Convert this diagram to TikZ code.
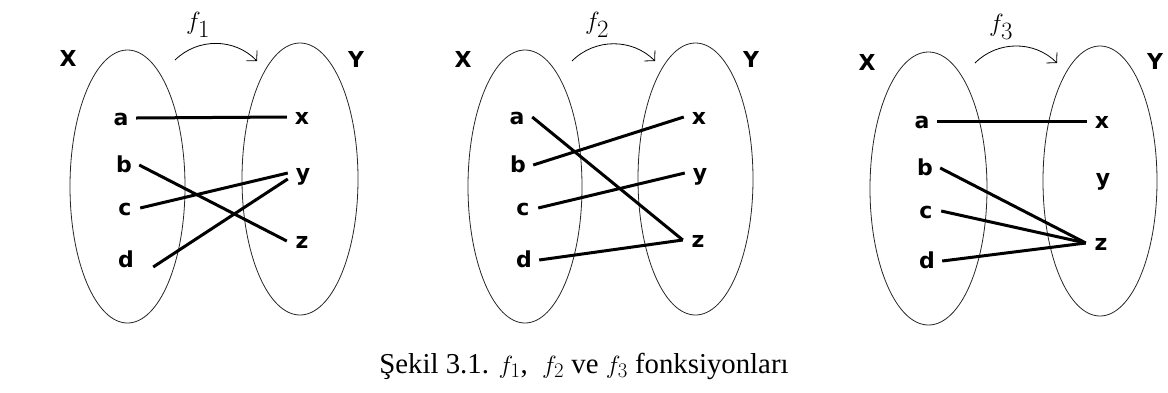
\documentclass[tikz,border=0pt]{standalone}
\usepackage{fontspec}
\setmainfont{Liberation Serif}
\newfontfamily\lblfont{DejaVu Sans}
\usetikzlibrary{arrows.meta}

\tikzset{
  setline/.style={line width=0.8pt, black!85},
  elem/.style={font=\lblfont\bfseries\fontsize{22}{22}\selectfont, anchor=base,
    inner sep=0pt, minimum width=30pt, text height=14pt, text depth=0pt},
  setname/.style={font=\lblfont\bfseries\fontsize{22}{22}\selectfont, anchor=base},
  mapline/.style={line width=3pt},
  maparrow/.style={line width=0.8pt, -{Straight Barb[length=7pt,width=15pt]}, bend left=45},
  fname/.style={font=\fontsize{34}{34}\selectfont},
}

\begin{document}
\begin{tikzpicture}[x=1pt,y=-1pt]
    \useasboundingbox (0,0) rectangle (1168,392);

    % f1
    \draw[setline] (127.5,186.5) ellipse (57.5 and 136.5);
    \draw[setline] (300,179) ellipse (58 and 136);
    \node[setname] (X1) at (68,66) {X};
    \node[setname] (Y1) at (356,67) {Y};
    \coordinate (s1) at (175,60);
    \coordinate (t1) at (257,61);
    \draw[maparrow] (s1) to (t1);
    \node[fname] (f1) at (198,25) {$f_1$};
    \node[elem] (a1) at (121,125) {a};
    \node[elem] (b1) at (124,172) {b};
    \node[elem] (c1) at (125,215) {c};
    \node[elem] (d1) at (126,267) {d};
    \node[elem] (x1) at (302,124) {x};
    \node[elem] (y1) at (303,180) {y};
    \node[elem] (z1) at (302,248) {z};
    \draw[mapline] (a1.east) -- (x1.west);
    \draw[mapline] (b1.east) -- (z1.west);
    \draw[mapline] (c1.east) -- (y1.west);
    \draw[mapline] ([xshift=12pt,yshift=-7pt]d1.east) -- ([yshift=-6pt]y1.west);

    % f2
    \draw[setline] (525,186.5) ellipse (57 and 136.5);
    \draw[setline] (695.5,179) ellipse (57.5 and 136);
    \node[setname] (X2) at (463,67) {X};
    \node[setname] (Y2) at (751,67) {Y};
    \coordinate (s2) at (572,61);
    \coordinate (t2) at (655,61);
    \draw[maparrow] (s2) to (t2);
    \node[fname] (f2) at (597,25) {$f_2$};
    \node[elem] (a2) at (517,124) {a};
    \node[elem] (b2) at (518,172) {b};
    \node[elem] (c2) at (523,215) {c};
    \node[elem] (d2) at (524,267) {d};
    \node[elem] (x2) at (699,124) {x};
    \node[elem] (y2) at (700,180) {y};
    \node[elem] (z2) at (698,247) {z};
    \draw[mapline] (a2.east) -- (z2.west);
    \draw[mapline] (b2.east) -- (x2.west);
    \draw[mapline] (c2.east) -- (y2.west);
    \draw[mapline] (d2.east) -- (z2.west);

    % f3
    \draw[setline] (928.5,188.5) ellipse (58.5 and 136.5);
    \draw[setline] (1100,181) ellipse (57 and 135);
    \node[setname] (X3) at (867,70) {X};
    \node[setname] (Y3) at (1155,69) {Y};
    \coordinate (s3) at (975,63);
    \coordinate (t3) at (1057,63);
    \draw[maparrow] (s3) to (t3);
    \node[fname] (f3) at (1001,27) {$f_3$};
    \node[elem] (a3) at (922,128) {a};
    \node[elem] (b3) at (925,175) {b};
    \node[elem] (c3) at (926,218) {c};
    \node[elem] (d3) at (927,268) {d};
    \node[elem] (x3) at (1102,128) {x};
    \node[elem] (y3) at (1103,185) {y};
    \node[elem] (z3) at (1101,250) {z};
    \draw[mapline] (a3.east) -- (x3.west);
    \draw[mapline] (b3.east) -- (z3.west);
    \draw[mapline] (c3.east) -- (z3.west);
    \draw[mapline] (d3.east) -- (z3.west);

    \node[font=\fontsize{28.8}{28.8}\selectfont, anchor=base] (cap) at (584,373)
      {Şekil 3.1. $f_1$,\ \ $f_2$ ve $f_3$ fonksiyonları};
\end{tikzpicture}
\end{document}
